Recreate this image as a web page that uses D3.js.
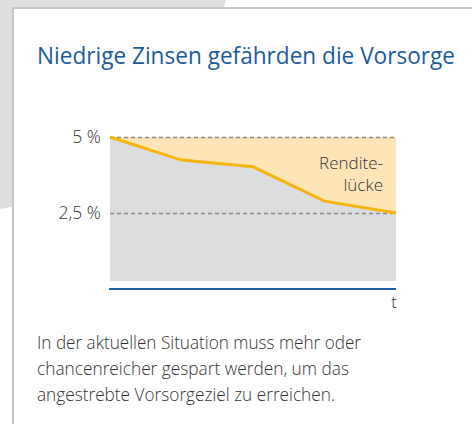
<!DOCTYPE html>
<html>
<head>
<meta charset="utf-8">
<script src="https://cdn.jsdelivr.net/npm/d3@7"></script>
<style>
  body { margin: 0; background: #fff; }
  svg { display: block; }
</style>
</head>
<body>
<div id="chart"></div>
<script>
// time steps and the yield curve (in %)
const zeitpunkte = [0, 1, 2, 3, 4];
const rendite = [5, 4.24, 4.02, 2.89, 2.5];
const zielRendite = 5;
const tickWerte = [5, 2.5];
const tickLabels = ["5 %", "2,5 %"];
const titel = "Niedrige Zinsen gefährden die Vorsorge";
const lueckeLabel = ["Rendite-", "lücke"];
const fussText = [
  "In der aktuellen Situation muss mehr oder",
  "chancenreicher gespart werden, um das",
  "angestrebte Vorsorgeziel zu erreichen."
];

const width = 472, height = 424;
const font = "'Open Sans', 'Noto Sans', sans-serif";

const svg = d3.select('#chart')
  .append('svg')
  .attr('width', width)
  .attr('height', height);

// gray backdrop with slanted edges, card on top
svg.append('polygon')
  .attr('points', '0,0 226,0 220,20 20,205 0,209')
  .attr('fill', '#dddee0');

svg.append('rect')
  .attr('x', 13).attr('y', 8)
  .attr('width', width).attr('height', height)
  .attr('fill', '#fff')
  .attr('stroke', '#c6c6c6')
  .attr('stroke-width', 2);

svg.append('text')
  .attr('x', 37).attr('y', 64)
  .attr('font-family', font)
  .attr('font-size', 23.5)
  .attr('fill', '#1b5b9b')
  .attr('textLength', 418)
  .attr('lengthAdjust', 'spacingAndGlyphs')
  .text(titel);

const x = d3.scaleLinear().domain(d3.extent(zeitpunkte)).range([110, 396]);
const y = d3.scaleLinear().domain([0, 5]).range([289, 137]);

const punkte = zeitpunkte.map((t, i) => [t, rendite[i]]);

// gray area under the curve
svg.append('path')
  .datum(punkte)
  .attr('fill', '#dcdddf')
  .attr('d', d3.area()
    .x(d => x(d[0]))
    .y0(y(0) - 8)
    .y1(d => y(d[1])));

// gap to the target yield
svg.append('path')
  .datum(punkte)
  .attr('fill', '#fee5b8')
  .attr('d', d3.area()
    .x(d => x(d[0]))
    .y0(y(zielRendite))
    .y1(d => y(d[1])));

const yAxis = svg.append('g')
  .attr('transform', `translate(${x.range()[0]},0)`)
  .call(d3.axisLeft(y)
    .tickValues(tickWerte)
    .tickSize(-(x.range()[1] - x.range()[0]))
    .tickPadding(9)
    .tickFormat((d, i) => tickLabels[i]));

yAxis.select('.domain').remove();
yAxis.selectAll('.tick line')
  .attr('stroke', '#8a8a8c')
  .attr('stroke-width', 1.3)
  .attr('stroke-dasharray', '4,3');
yAxis.selectAll('.tick text')
  .attr('font-family', font)
  .attr('font-weight', 300)
  .attr('font-size', 17.5)
  .attr('fill', '#333');

svg.append('path')
  .datum(punkte)
  .attr('fill', 'none')
  .attr('stroke', '#f7b50c')
  .attr('stroke-width', 3)
  .attr('d', d3.line().x(d => x(d[0])).y(d => y(d[1])));

// time axis
svg.append('line')
  .attr('x1', x.range()[0] - 1).attr('x2', x.range()[1])
  .attr('y1', y(0)).attr('y2', y(0))
  .attr('stroke', '#1f5fa6')
  .attr('stroke-width', 2);

svg.append('text')
  .attr('x', x.range()[1] - 2).attr('y', y(0) + 19)
  .attr('text-anchor', 'middle')
  .attr('font-family', font)
  .attr('font-weight', 300)
  .attr('font-size', 17)
  .attr('fill', '#333')
  .text('t');

svg.selectAll('.luecke')
  .data(lueckeLabel)
  .enter()
  .append('text')
  .attr('class', 'luecke')
  .attr('x', 383)
  .attr('y', (d, i) => 169 + i * 22)
  .attr('text-anchor', 'end')
  .attr('font-family', font)
  .attr('font-weight', 300)
  .attr('font-size', 17)
  .attr('fill', '#333')
  .text(d => d);

const fussBreiten = [324, 312, 298];
svg.selectAll('.fuss')
  .data(fussText)
  .enter()
  .append('text')
  .attr('class', 'fuss')
  .attr('x', 37)
  .attr('y', (d, i) => 349 + i * 26)
  .attr('font-family', font)
  .attr('font-weight', 300)
  .attr('font-size', 17.5)
  .attr('fill', '#333')
  .attr('textLength', (d, i) => fussBreiten[i])
  .attr('lengthAdjust', 'spacingAndGlyphs')
  .text(d => d);
</script>
</body>
</html>
